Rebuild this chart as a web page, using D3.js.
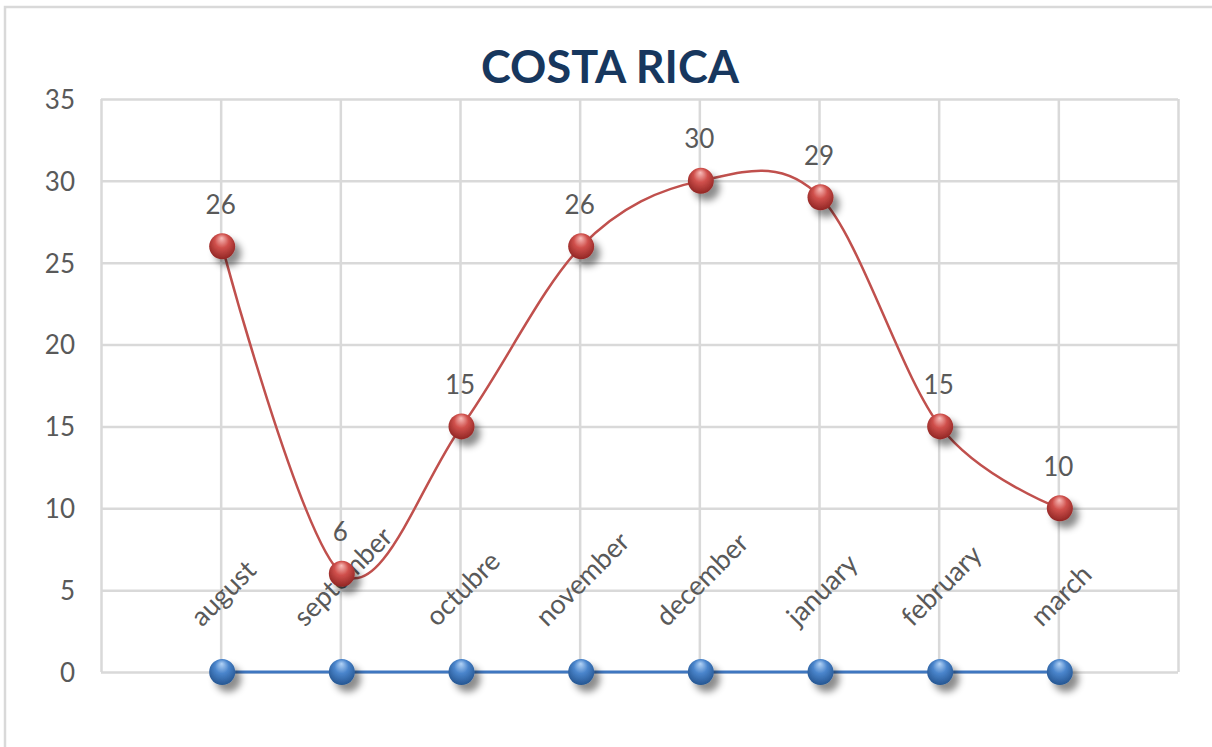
<!DOCTYPE html>
<html>
<head>
<meta charset="utf-8">
<script src="https://cdn.jsdelivr.net/npm/d3@7"></script>
<style>
  html, body { margin: 0; padding: 0; background: #fff; }
  svg { display: block; }
  text { font-family: Lato, "Open Sans", sans-serif; }
</style>
</head>
<body>
<svg id="chart" width="1212" height="747"></svg>
<script>
const title = "COSTA RICA";
const categories = ["august", "september", "octubre", "november", "december", "january", "february", "march"];
const redValues = [26, 6, 15, 26, 30, 29, 15, 10];
const blueValues = [0, 0, 0, 0, 0, 0, 0, 0];
const yTicks = [0, 5, 10, 15, 20, 25, 30, 35];

const svg = d3.select("#chart");
const plot = { left: 101, right: 1178, top: 99, bottom: 672 };

// chart border
svg.append("rect").attr("x", 5).attr("y", 7).attr("width", 1300).attr("height", 900)
  .attr("fill", "#fff").attr("stroke", "#D9D9D9").attr("stroke-width", 2.5);

const defs = svg.append("defs");
const shadow = defs.append("filter").attr("id", "shadow").attr("x", "-50%").attr("y", "-50%").attr("width", "250%").attr("height", "250%");
shadow.append("feDropShadow").attr("dx", 6).attr("dy", 7).attr("stdDeviation", 3.5)
  .attr("flood-color", "#000").attr("flood-opacity", 0.45);

function sphere(id, hi, mid, edge) {
  const g = defs.append("radialGradient").attr("id", id)
    .attr("cx", "50%").attr("cy", "42%").attr("r", "60%").attr("fx", "48%").attr("fy", "18%");
  g.append("stop").attr("offset", "0%").attr("stop-color", hi);
  g.append("stop").attr("offset", "45%").attr("stop-color", mid);
  g.append("stop").attr("offset", "100%").attr("stop-color", edge);
}
sphere("redBall", "#F8BDBA", "#D0504C", "#8E2422");
sphere("blueBall", "#B3D3F6", "#4A85CC", "#24548F");

const x = d3.scaleLinear().domain([0, categories.length + 1]).range([plot.left, plot.right]);
const y = d3.scaleLinear().domain([0, 35]).range([plot.bottom, plot.top]);
const mx = (i) => x(i + 1) + 1.5;

// gridlines
const gridColor = "#D9D9D9";
const gy = svg.append("g").attr("transform", `translate(${plot.left},0)`)
  .call(d3.axisLeft(y).tickValues(yTicks).tickSize(-(plot.right - plot.left)).tickFormat(""));
gy.select(".domain").remove();
gy.selectAll("line").attr("stroke", gridColor).attr("stroke-width", 2.5);

const gx = svg.append("g").attr("transform", `translate(0,${plot.bottom})`)
  .call(d3.axisBottom(x).tickValues(d3.range(0, categories.length + 2)).tickSize(-(plot.bottom - plot.top)).tickFormat(""));
gx.select(".domain").remove();
gx.selectAll("line").attr("stroke", gridColor).attr("stroke-width", 2.5);

// y tick labels
const yl = svg.append("g").attr("transform", `translate(75,0)`)
  .call(d3.axisLeft(y).tickValues(yTicks).tickSize(0).tickPadding(0));
yl.select(".domain").remove();
yl.selectAll("text").attr("font-family", "Lato, sans-serif").attr("font-size", 26).attr("fill", "#595959").attr("dy", "0.36em");

// title
svg.append("text").attr("x", 610).attr("y", 83).attr("text-anchor", "middle")
  .attr("font-size", 45).attr("font-weight", "bold").attr("fill", "#17375E").text(title);

// category labels
const catG = svg.append("g");
categories.forEach((c, i) => {
  const g = catG.append("g");
  g.append("text").attr("text-anchor", "middle").attr("transform", "rotate(-45)")
    .attr("font-size", 27).attr("fill", "#595959").text(c);
  const bb = g.node().getBBox();
  const cx = x(i + 1) + 2;
  const tx = cx - (bb.x + bb.width / 2);
  const ty = 632 - (bb.y + bb.height);
  g.attr("transform", `translate(${tx},${ty})`);
});

// blue series
const lineStraight = d3.line().x((d, i) => mx(i)).y(d => y(d));
svg.append("path").datum(blueValues).attr("d", lineStraight)
  .attr("fill", "none").attr("stroke", "#3F77C0").attr("stroke-width", 3);

// red series smooth
const lineSmooth = d3.line().x((d, i) => mx(i)).y(d => y(d)).curve(d3.curveCardinal.tension(0));
svg.append("path").datum(redValues).attr("d", lineSmooth)
  .attr("fill", "none").attr("stroke", "#C0504D").attr("stroke-width", 2.5);

// markers
svg.append("g").selectAll("circle").data(blueValues).join("circle")
  .attr("cx", (d, i) => mx(i)).attr("cy", d => y(d)).attr("r", 13)
  .attr("fill", "url(#blueBall)").attr("filter", "url(#shadow)");
svg.append("g").selectAll("circle").data(redValues).join("circle")
  .attr("cx", (d, i) => mx(i)).attr("cy", d => y(d)).attr("r", 13)
  .attr("fill", "url(#redBall)").attr("filter", "url(#shadow)");

// data labels
svg.append("g").selectAll("text").data(redValues).join("text")
  .attr("x", (d, i) => x(i + 1)).attr("y", d => y(d) - 42).attr("dy", "0.36em")
  .attr("text-anchor", "middle").attr("font-size", 26).attr("fill", "#595959")
  .text(d => d);
</script>
</body>
</html>
